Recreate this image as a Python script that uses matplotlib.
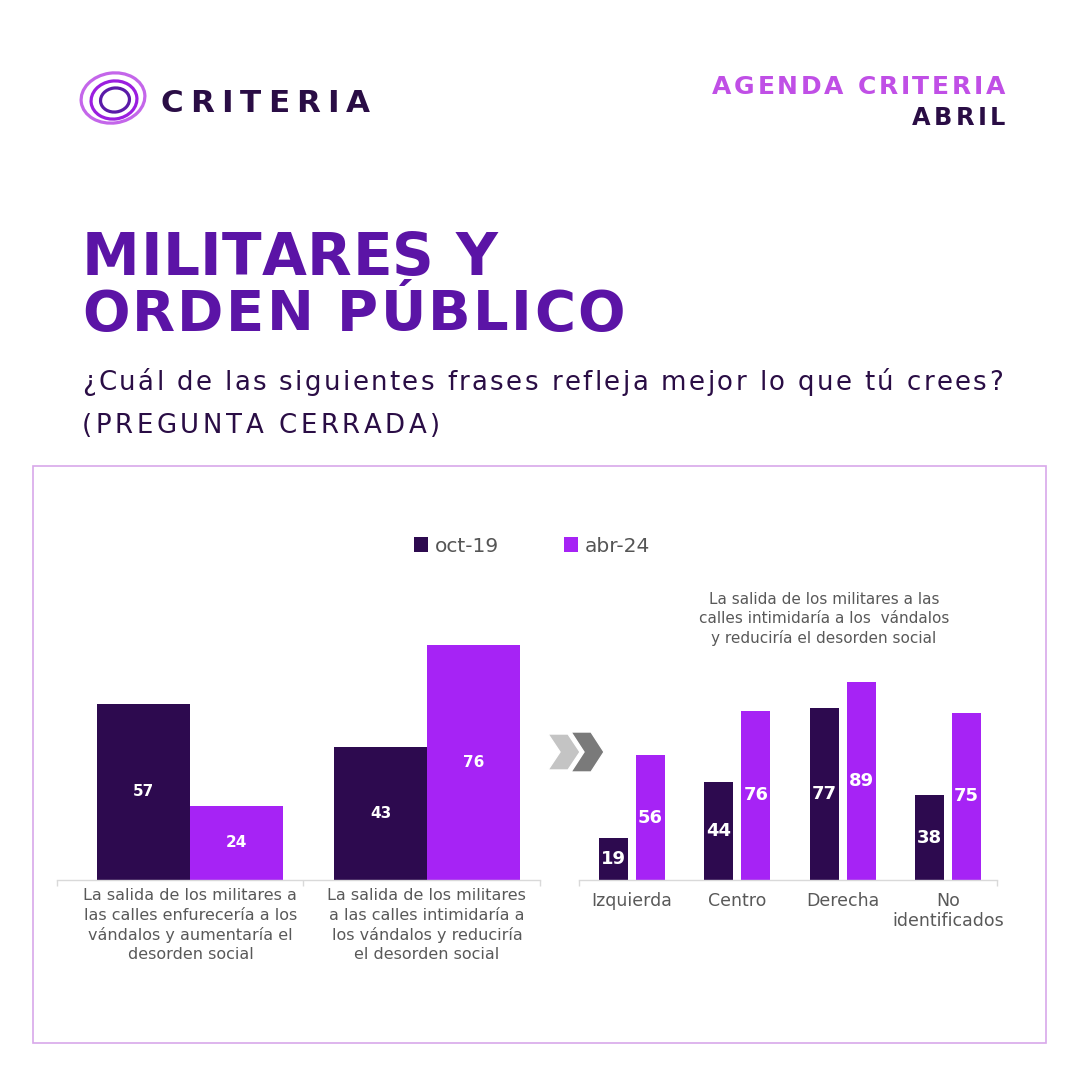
import matplotlib
matplotlib.use('Agg')
import matplotlib.pyplot as plt
import matplotlib.patches as mpatches
from matplotlib.transforms import Affine2D
import numpy as np

# data
periods = ['oct-19', 'abr-24']
left_categories = ['La salida de los militares a\nlas calles enfurecería a los\n'
                   'vándalos y aumentaría el\ndesorden social',
                   'La salida de los militares\na las calles intimidaría a\n'
                   'los vándalos y reduciría\nel desorden social']
left_oct = [57, 43]
left_abr = [24, 76]

right_title = ('La salida de los militares a las\n'
               'calles intimidaría a los  vándalos\n'
               'y reduciría el desorden social')
right_categories = ['Izquierda', 'Centro', 'Derecha', 'No\nidentificados']
right_oct = [19, 44, 77, 38]
right_abr = [56, 76, 89, 75]

DARK = '#2d0a4f'
PURPLE = '#a623f5'
TITLE = '#5b14a6'
INK = '#2a0d45'
GREY = '#595959'
FONT = 'DejaVu Sans'

plt.rcParams['font.family'] = [FONT]

W = 1080
fig = plt.figure(figsize=(10.8, 10.8), dpi=100)
fig.patch.set_facecolor('white')
renderer = fig.canvas.get_renderer()
# pixel coords, origin top-left
pix = Affine2D().scale(1 / W, -1 / W).translate(0, 1) + fig.transFigure


def px(v):
    return v * 0.72


def tracked_text(x, y, s, width, ha='left', **kw):
    widths = []
    for ch in s:
        if ch == ' ':
            a = fig.text(0, 0, 'nn', **kw)
            b = fig.text(0, 0, 'n n', **kw)
            w = b.get_window_extent(renderer).width - a.get_window_extent(renderer).width
            a.remove(); b.remove()
        else:
            t = fig.text(0, 0, ch, **kw)
            w = t.get_window_extent(renderer).width
            t.remove()
        widths.append(w)
    natural = sum(widths)
    gap = (width - natural) / (len(s) - 1)
    pos = x if ha == 'left' else x - width
    for ch, w in zip(s, widths):
        if ch != ' ':
            fig.text(pos, y, ch, transform=pix, ha='left', va='baseline', **kw)
        pos += w + gap


# header logo
for (cx, cy, w, h, col, lw) in [(113, 98, 64, 50, '#c466ea', 2.3),
                                (114, 100, 46, 38, '#9b1ee0', 2.3),
                                (115, 100, 29, 24, '#5a1aa8', 2.3)]:
    fig.patches.append(mpatches.Ellipse((cx, cy), w, h, angle=-8, fill=False,
                                        edgecolor=col, lw=lw, transform=pix))

tracked_text(160, 112, 'CRITERIA', 210, fontsize=px(31), color=INK, fontweight='bold')
tracked_text(1005, 94, 'AGENDA CRITERIA', 293, ha='right', fontsize=px(25),
             color='#c04fe6', fontweight='bold')
tracked_text(1005, 125, 'ABRIL', 93, ha='right', fontsize=px(24), color=INK,
             fontweight='bold')

tracked_text(82, 275, 'MILITARES Y', 415, fontsize=px(58), color=TITLE, fontweight='bold')
tracked_text(82, 330, 'ORDEN PÚBLICO', 543, fontsize=px(56), color=TITLE, fontweight='bold')
tracked_text(82, 390, '¿Cuál de las siguientes frases refleja mejor lo que tú crees?', 921,
             fontsize=px(26), color=INK)
tracked_text(82, 433, '(PREGUNTA CERRADA)', 358, fontsize=px(26), color=INK)

# frame
fig.patches.append(mpatches.Rectangle((33, 466), 1013, 577, fill=False,
                                      edgecolor='#d8a8ea', lw=1.2, transform=pix))


def style_axis(ax, ends):
    for s in ['top', 'right', 'left']:
        ax.spines[s].set_visible(False)
    ax.spines['bottom'].set_color('#d9d9d9')
    ax.spines['bottom'].set_linewidth(1.0)
    ax.set_yticks([])
    ax.tick_params(axis='x', which='major', length=0)
    ax.set_xticks(ends, minor=True)
    ax.tick_params(axis='x', which='minor', length=4, color='#d9d9d9', width=1.0)
    ax.patch.set_alpha(0)


# left chart
axl = fig.add_axes([57 / W, 200 / W, 483 / W, 280 / W])
xl = np.arange(len(left_categories))
bw = 0.393
b1 = axl.bar(xl - bw / 2, left_oct, bw, color=DARK, label=periods[0])
b2 = axl.bar(xl + bw / 2, left_abr, bw, color=PURPLE, label=periods[1])
axl.set_xlim(-0.564, 1.478)
axl.set_ylim(0, 90.6)
style_axis(axl, [-0.564, 0.476, 1.478])
axl.set_xticks(xl)
axl.set_xticklabels(left_categories, fontsize=11.5, color=GREY, linespacing=1.35)
axl.tick_params(axis='x', which='major', pad=6)
for b in (b1, b2):
    axl.bar_label(b, label_type='center', color='white', fontweight='bold', fontsize=11)

# right chart
axr = fig.add_axes([579 / W, 200 / W, 418 / W, 280 / W])
xr = np.arange(len(right_categories))
rw = 0.275
off = 0.176
r1 = axr.bar(xr - off, right_oct, rw, color=DARK)
r2 = axr.bar(xr + off, right_abr, rw, color=PURPLE)
axr.set_xlim(-0.503, 3.465)
axr.set_ylim(0, 125.6)
style_axis(axr, [-0.503, 3.465])
axr.set_xticks(xr)
axr.set_xticklabels(right_categories, fontsize=12.5, color=GREY, linespacing=1.1)
axr.tick_params(axis='x', which='major', pad=9)
for b in (r1, r2):
    axr.bar_label(b, label_type='center', color='white', fontweight='bold', fontsize=13)

fig.text(824, 619, right_title, transform=pix, ha='center', va='center',
         fontsize=11, color=GREY, linespacing=1.3)

# legend
fig.legend(handles=[b1, b2], labels=periods, loc='center', ncol=2,
           bbox_to_anchor=(532 / W, 1 - 546 / W), frameon=False,
           fontsize=14.5, labelcolor='#555555', handlelength=0.7, handleheight=0.7,
           handletextpad=0.35, columnspacing=3.2)


# chevrons
def chevron(x0, yc, w, h, t, color):
    pts = [(x0, yc - h / 2), (x0 + t, yc - h / 2), (x0 + w, yc),
           (x0 + t, yc + h / 2), (x0, yc + h / 2), (x0 + w - t, yc)]
    fig.patches.append(mpatches.Polygon(pts, closed=True, facecolor=color,
                                        edgecolor='white', lw=1.0, transform=pix))


chevron(548, 752, 32, 36, 20, '#c4c4c4')
chevron(571, 752, 33, 40, 20, '#7a7a7a')

fig.savefig('out.png', dpi=100, facecolor='white')
